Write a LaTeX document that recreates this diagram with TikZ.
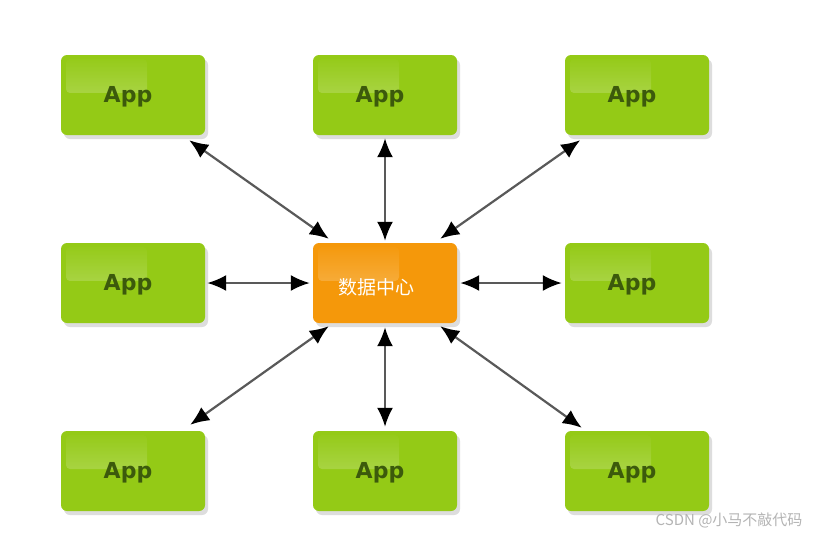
\documentclass[tikz,border=0pt]{standalone}
\usepackage{fontspec}
\usetikzlibrary{shadows,arrows.meta,fadings}
\newfontfamily\appfont{DejaVu Sans Bold}
\newfontfamily\cjk{Noto Sans CJK SC}
\definecolor{appgreen}{RGB}{148,202,22}
\definecolor{apptext}{RGB}{60,90,12}
\definecolor{dcorange}{RGB}{245,152,10}
\definecolor{wmgray}{RGB}{180,180,180}
\tikzset{
  gloss/.style={path picture={\fill[white,opacity=0.4,path fading=north,rounded corners=4pt]
      ([shift={(5pt,-4pt)}]path picture bounding box.north west) rectangle
      ([shift={(-58pt,2pt)}]path picture bounding box.east);}},
  basebox/.style={rounded corners=6pt, minimum width=144pt, minimum height=80pt, inner sep=0pt,
      drop shadow={shadow xshift=3pt, shadow yshift=-4pt, opacity=0.22, fill=black!60}, gloss},
  appbox/.style={basebox, fill=appgreen},
  apptxt/.style={text=apptext, font=\appfont\fontsize{22}{26}\selectfont},
  dcbox/.style={basebox, fill=dcorange},
  arr/.style={{Latex[length=19pt,width=16pt,black]}-{Latex[length=19pt,width=16pt,black]}, line width=2.2pt, draw=black!65}
}
\begin{document}
\begin{tikzpicture}[x=1pt,y=-1pt]
\fill[white] (0,0) rectangle (816,536);
\useasboundingbox (0,0) rectangle (816,536);
\node[appbox] (tl) at (133,95) {};
\node[appbox] (tm) at (385,95) {};
\node[appbox] (tr) at (637,95) {};
\node[appbox] (ml) at (133,283) {};
\node[dcbox]  (c)  at (385,283) {};
\node[appbox] (mr) at (637,283) {};
\node[appbox] (bl) at (133,471) {};
\node[appbox] (bm) at (385,471) {};
\node[appbox] (br) at (637,471) {};
\foreach \n in {tl,tm,tr,ml,mr,bl,bm,br}
  \node[apptxt] (\n t) at ([shift={(-5,2)}]\n.center) {App};
\node[text=white, font=\cjk\fontsize{19}{22}\selectfont, anchor=west] (ct) at ([xshift=-50pt,yshift=-4pt]c.center) {数据中心};
% connectors
\draw[arr] ([shift={(-16,5)}]tl.south east) -- ([shift={(16,-4)}]c.north west);
\draw[arr] ([yshift=-3pt]tm.south) -- ([yshift=2pt]c.north);
\draw[arr] ([shift={(-129,5)}]tr.south east) -- ([shift={(-17,-4)}]c.north east);
\draw[arr] ([xshift=2pt]ml.east) -- ([xshift=-3pt]c.west);
\draw[arr] ([xshift=3pt]c.east) -- ([xshift=-3pt]mr.west);
\draw[arr] ([shift={(-15,-6)}]bl.north east) -- ([shift={(16,3)}]c.south west);
\draw[arr] ([yshift=-4pt]c.south) -- ([yshift=4pt]bm.north);
\draw[arr] ([shift={(-17,3)}]c.south east) -- ([shift={(17,-3)}]br.north west);
\node[text=wmgray, font=\cjk\fontsize{15}{17}\selectfont, anchor=east] (wm) at (806,520) {CSDN @小马不敲代码};
\end{tikzpicture}
\end{document}
